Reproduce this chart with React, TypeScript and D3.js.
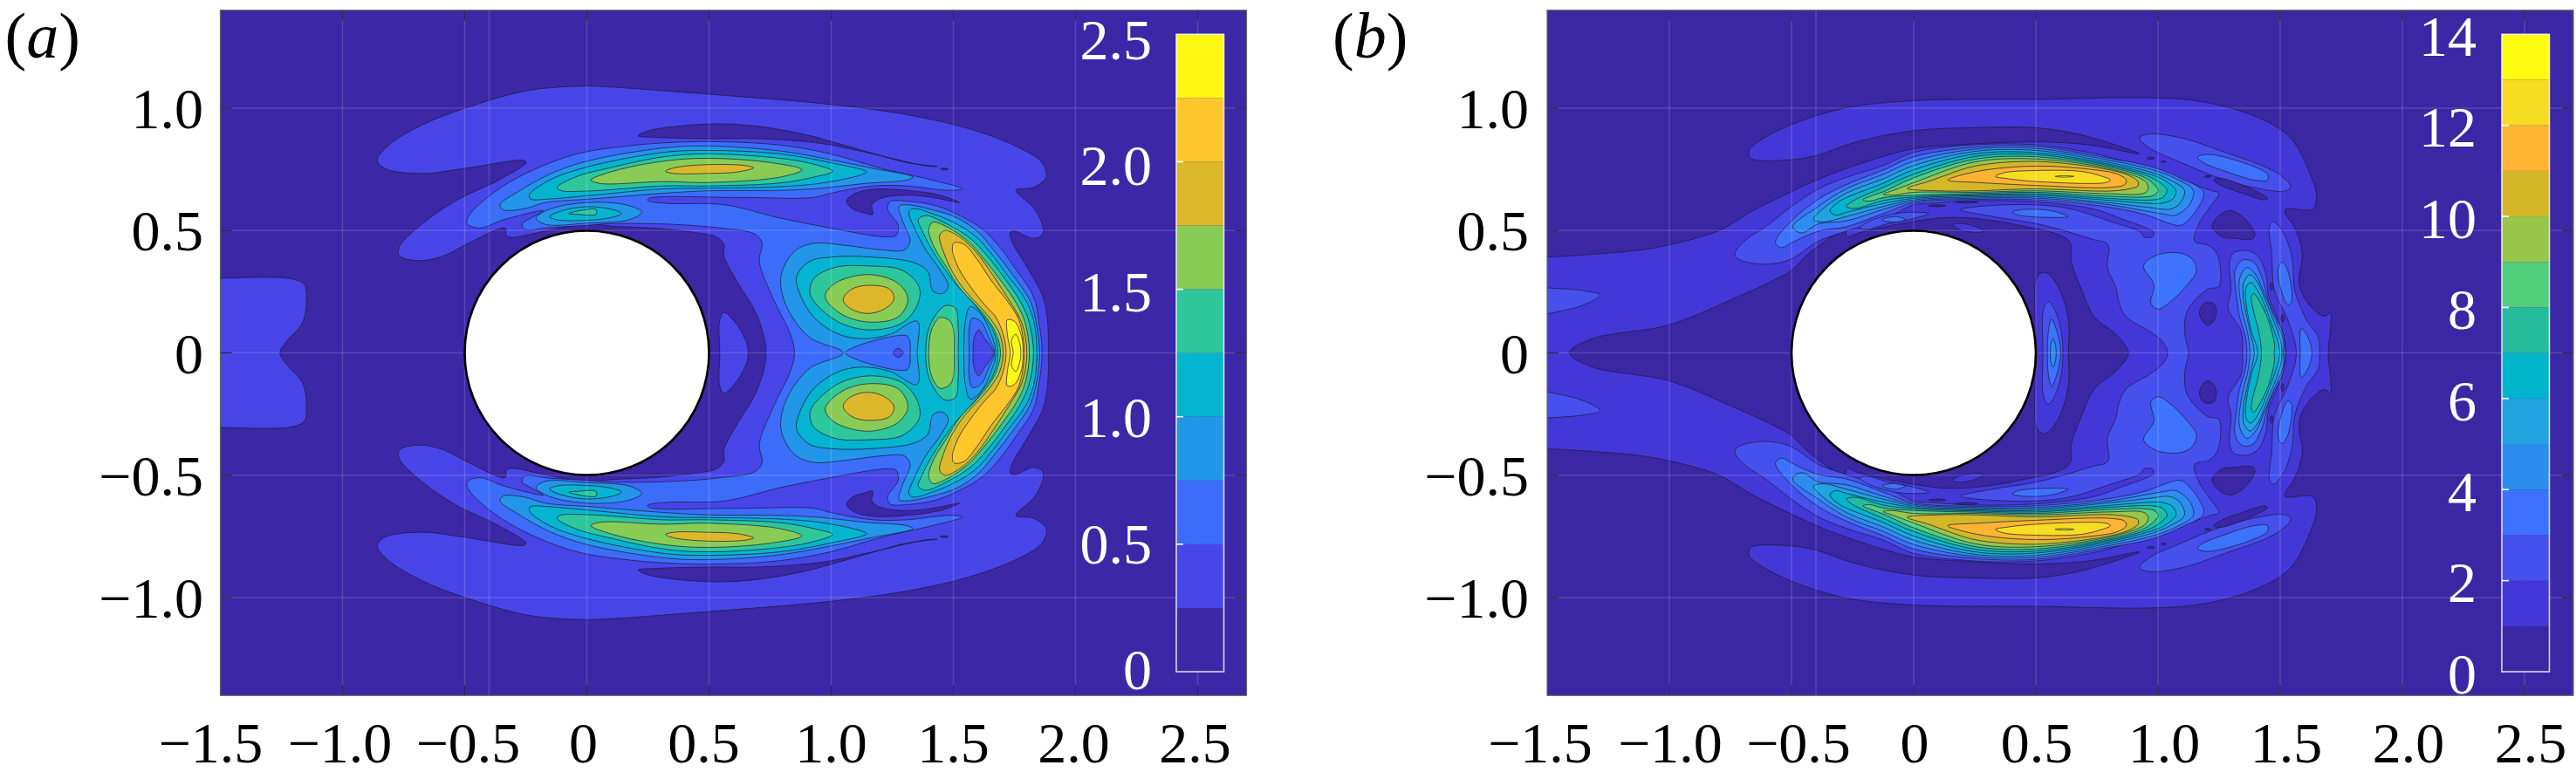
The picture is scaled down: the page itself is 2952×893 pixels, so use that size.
import React from "react";
import * as d3 from "d3";

type Layer = { level: number; half: boolean; pts: number[] };

const xTicks = [-1.5, -1, -0.5, 0, 0.5, 1, 1.5, 2, 2.5];
const yTicks = [-1, -0.5, 0, 0.5, 1];
const gridX = [-1, -0.5, -0.4, 0, 0.5, 1, 1.5, 2, 2.5];
const xNudgeA = [-11, -3, 4, -4, -6, 0, 0, -2, -3];
const xNudgeB = [-8, 1, 8, 1, 1, 7, 7, 7, 7];
const aBarTicks = [0, 0.5, 1, 1.5, 2, 2.5];
const bBarTicks = [0, 2, 4, 6, 8, 10, 12, 14];
const aColors = ["#3c27a6", "#4845e8", "#3d6cfb", "#2296e8", "#05b5cf", "#2ec79b", "#88cc55", "#dcb72a", "#ffc72c", "#fef812"];
const bColors = ["#3b27a3", "#4437d8", "#4650ec", "#3d72fc", "#2d8dee", "#20a3de", "#00b4cb", "#25bc9c", "#52cf7c", "#98c54a", "#d3b728", "#ffb333", "#f7dd22", "#fdfc0f"];

// ---- panel (a): contour outlines in data units (upper half; the lower half mirrors it)
const aOuter1 = [1.889,0,1.885,.135,1.866,.23,1.802,.349,1.742,.45,1.733,.492,1.75,.498,1.828,.468,1.866,.486,1.863,.528,1.828,.593,1.756,.664,1.828,.676,1.88,.718,1.863,.777,1.759,.843,1.569,.914,1.309,.973,.997,1.015,.495,1.057,.097,1.086,0,1.09,-.239,1.072,-.499,.999,-.672,.932,-.81,.849,-.857,.789,-.828,.754,-.672,.733,-.499,.754,-.256,.786,-.249,.777,-.36,.706,-.533,.623,-.672,.528,-.767,.433,-.767,.397,-.689,.377,-.585,.397,-.481,.45,-.334,.51,-.329,.48,-.308,.472,-.17,.498,0,.528,.097,.518,.27,.51,.443,.492,.53,.474,.561,.444,.561,.397,.616,.29,.694,.159,.734,0];
const aLeft1 = [-1.55,0,-1.55,.305,-1.5,.305,-1.208,.302,-1.156,.278,-1.147,.219,-1.164,.123,-1.225,.052,-1.256,0];
const aSliver0 = [.21,.887,.253,.908,.495,.935,.668,.929,.876,.896,1.136,.825,1.309,.777,1.434,.762,1.395,.763,1.17,.813,.963,.855,.703,.875,.495,.875,.27,.881];
const aDot0 = [1.447,.751,1.462,.755,1.479,.751,1.462,.747];
const aHook0 = [1.525,.614,1.447,.644,1.309,.664,1.17,.668,1.092,.649,1.063,.62,1.087,.589,1.136,.572,1.17,.566,1.167,.605,1.205,.632,1.309,.644,1.413,.635];
const aNear1 = [.544,0,.544,.135,.561,.165,.608,.123,.654,.04,.66,0];
const aMain2 = [.85,0,.833,.076,.764,.219,.706,.373,.717,.45,.686,.486,.547,.51,.357,.525,.097,.528,0,.521,-.152,.512,-.256,.504,-.265,.528,-.248,.54,-.178,.581,-.343,.543,-.438,.51,-.49,.528,-.481,.563,-.377,.658,-.256,.73,-.1,.795,0,.822,.097,.837,.27,.855,.495,.863,.79,.849,.997,.813,1.205,.754,1.413,.706,1.539,.67,1.482,.664,1.309,.682,1.17,.682,.997,.652,.928,.635,.616,.635,.253,.631,.249,.623,.322,.611,.564,.605,.79,.551,.997,.51,1.222,.474,1.266,.48,1.274,.522,1.231,.587,1.24,.617,1.309,.62,1.43,.601,1.534,.557,1.621,.504,1.69,.432,1.759,.337,1.828,.23,1.849,.135,1.863,0];
const aMain3 = [1.853,0,1.837,.135,1.811,.219,1.742,.32,1.664,.421,1.603,.492,1.517,.551,1.413,.585,1.309,.605,1.278,.599,1.292,.54,1.323,.456,1.3,.421,1.205,.421,1.067,.438,.928,.447,.85,.415,.795,.314,.815,.195,.911,.064,1.049,0];
const aBand3 = [-.355,.605,-.282,.658,-.152,.73,0,.783,.312,.837,.495,.845,.79,.825,.997,.789,1.17,.754,1.335,.718,1.309,.706,1.136,.692,.963,.673,.79,.664,.495,.662,.312,.652,.021,.629,-.17,.614,-.256,.589,-.343,.585];
const aBlob3 = [-.208,.551,-.152,.587,0,.614,.159,.605,.225,.575,.177,.545,0,.53,-.17,.525];
const aTri2 = [1.058,0,1.309,.07,1.323,.04,1.323,0];
const aMini1 = [1.254,0,1.274,.019,1.295,0];
const aMain4 = [1.352,0,1.352,.129,1.24,.076,1.136,.058,1.032,.076,.928,.147,.867,.254,.859,.314,.911,.373,.997,.391,1.17,.391,1.344,.367,1.396,.331,1.416,.254,1.456,.242,1.479,.272,1.447,.337,1.387,.421,1.344,.504,1.318,.575,1.335,.589,1.413,.569,1.499,.534,1.586,.48,1.647,.415,1.724,.314,1.794,.219,1.828,.135,1.842,0];
const aBand4 = [-.235,.646,-.152,.706,0,.759,.312,.819,.495,.827,.79,.813,.997,.777,1.144,.739,1.118,.726,.963,.694,.79,.679,.495,.673,.312,.67,.021,.644,-.152,.629,-.23,.629];
const aBlob4 = [-.152,.557,-.1,.581,0,.597,.107,.585,.142,.569,.09,.551,0,.542,-.118,.543];
const aTear3 = [1.543,0,1.548,.123,1.569,.189,1.612,.159,1.655,.076,1.674,0];
const aTear2 = [1.565,0,1.565,.1,1.577,.141,1.612,.129,1.647,.058,1.669,0];
const aTear1 = [1.581,0,1.583,.052,1.603,.094,1.629,.058,1.664,0];
const aBand5 = [-.121,.676,-.048,.718,.107,.759,.312,.801,.495,.813,.79,.795,.928,.771,1.006,.742,.928,.718,.79,.694,.495,.682,.312,.682,0,.661,-.109,.664];
const aBlob5 = [-.074,.569,-.005,.585,.038,.585,.038,.566,-.04,.566];
const aRound5 = [.914,.242,.928,.302,1.015,.349,1.153,.355,1.292,.337,1.361,.266,1.352,.195,1.292,.123,1.17,.094,1.049,.117,.954,.183];
const aOval5 = [1.387,0,1.404,.112,1.465,.192,1.508,.183,1.52,.1,1.52,0];
const aRidge5 = [1.683,0,1.664,.088,1.621,.153,1.569,.219,1.508,.284,1.465,.343,1.413,.421,1.37,.504,1.357,.545,1.387,.561,1.482,.522,1.569,.468,1.638,.397,1.707,.308,1.776,.207,1.811,.123,1.828,0];
const aBand6 = [.017,.706,.107,.742,.312,.783,.495,.795,.755,.777,.88,.748,.79,.718,.495,.696,.312,.7,.055,.692];
const aRound6 = [.975,.23,1.015,.284,1.153,.32,1.274,.284,1.314,.219,1.274,.147,1.153,.126,1.041,.159];
const aOval6 = [1.399,0,1.413,.1,1.447,.145,1.491,.123,1.503,0];
const aRidge6 = [1.693,0,1.676,.076,1.638,.141,1.586,.201,1.525,.266,1.473,.349,1.421,.433,1.399,.504,1.416,.534,1.482,.51,1.56,.456,1.629,.379,1.698,.29,1.759,.201,1.794,.123,1.811,0];
const aBand7 = [.322,.742,.357,.756,.495,.769,.651,.765,.682,.756,.616,.739,.495,.733,.357,.733];
const aRound7 = [1.049,.219,1.084,.26,1.153,.276,1.24,.26,1.257,.219,1.214,.177,1.144,.161,1.075,.183];
const aRidge7 = [1.704,0,1.69,.076,1.655,.135,1.603,.195,1.548,.254,1.499,.326,1.461,.409,1.444,.48,1.465,.5,1.525,.474,1.595,.409,1.664,.314,1.733,.207,1.78,.123,1.801,0];
const aRidge8 = [1.716,0,1.704,.076,1.673,.147,1.629,.195,1.569,.272,1.52,.349,1.496,.421,1.503,.45,1.543,.444,1.595,.385,1.655,.296,1.724,.207,1.768,.135,1.79,0];
const aRidge9 = [1.733,0,1.721,.076,1.721,.135,1.75,.129,1.78,.064,1.785,0];
const aCore9 = [1.745,0,1.738,.052,1.756,.076,1.773,.034,1.776,0];

const aLayers: Layer[] = [
  { level: 1, half: true, pts: aOuter1 }, { level: 1, half: true, pts: aLeft1 },
  { level: 0, half: false, pts: aSliver0 }, { level: 0, half: false, pts: aDot0 }, { level: 0, half: false, pts: aHook0 },
  { level: 1, half: true, pts: aNear1 },
  { level: 2, half: true, pts: aMain2 }, { level: 3, half: true, pts: aMain3 },
  { level: 3, half: false, pts: aBand3 }, { level: 3, half: false, pts: aBlob3 },
  { level: 2, half: true, pts: aTri2 }, { level: 1, half: true, pts: aMini1 },
  { level: 4, half: true, pts: aMain4 }, { level: 4, half: false, pts: aBand4 }, { level: 4, half: false, pts: aBlob4 },
  { level: 3, half: true, pts: aTear3 }, { level: 2, half: true, pts: aTear2 }, { level: 1, half: true, pts: aTear1 },
  { level: 5, half: false, pts: aBand5 }, { level: 5, half: false, pts: aBlob5 }, { level: 5, half: false, pts: aRound5 },
  { level: 5, half: true, pts: aOval5 }, { level: 5, half: true, pts: aRidge5 },
  { level: 6, half: false, pts: aBand6 }, { level: 6, half: false, pts: aRound6 }, { level: 6, half: true, pts: aOval6 }, { level: 6, half: true, pts: aRidge6 },
  { level: 7, half: false, pts: aBand7 }, { level: 7, half: false, pts: aRound7 }, { level: 7, half: true, pts: aRidge7 },
  { level: 8, half: true, pts: aRidge8 }, { level: 9, half: true, pts: aRidge9 }, { level: 9, half: true, pts: aCore9 },
];

// ---- panel (b)
const bOuter1 = [1.697,0,1.706,.112,1.706,.161,1.679,.15,1.62,.195,1.578,.278,1.59,.409,1.563,.504,1.519,.585,1.632,.587,1.649,.635,1.623,.73,1.537,.884,1.381,.973,1.173,1.027,.983,1.042,.515,1.036,0,1.03,-.277,1.001,-.502,.932,-.64,.86,-.674,.825,-.666,.795,-.502,.789,-.397,.807,-.241,.86,0,.908,.256,.92,.498,.92,.689,.89,.925,.813,.723,.849,.498,.862,.169,.849,-.004,.833,-.241,.765,-.397,.706,-.501,.658,-.657,.581,-.787,.504,-.899,.466,-1.09,.424,-1.367,.399,-1.5,.392,-1.55,.392,-1.55,0];
const bHole0 = [-1.41,0,-1.315,.058,-1.003,.114,-.744,.219,-.588,.29,-.501,.337,-.44,.397,-.328,.48,-.28,.498,-.273,.474,-.225,.49,0,.537,.169,.554,.429,.522,.637,.456,.645,.373,.689,.254,.74,.147,.827,.076,.879,0];
const bNear1a = [.16,.522,.204,.528,.29,.498,.256,.492,.186,.504];
const bNear1b = [.502,0,.507,.313,.541,.328,.593,.266,.633,.135,.633,0];
const bNear2 = [.529,0,.533,.183,.553,.209,.593,.135,.611,0];
const bNear3 = [.547,0,.553,.1,.564,.138,.593,.064,.602,0];
const bNear4 = [.559,0,.564,.046,.571,.058,.581,.028,.583,0];
const bLeft2 = [-1.55,.27,-1.5,.266,-1.353,.254,-1.283,.236,-1.353,.195,-1.5,.159,-1.55,.15];
const bMain2 = [1.04,0,1.019,.046,.965,.088,.87,.147,.84,.207,.828,.266,.793,.349,.799,.432,.787,.45,.739,.462,.62,.498,.501,.528,.323,.557,.192,.585,.382,.605,.62,.593,.799,.539,.93,.492,.942,.474,.977,.474,.983,.492,.954,.51,.858,.545,.739,.587,.501,.617,.263,.622,.061,.611,0,.605,-.125,.545,-.276,.497,-.39,.456,-.5,.384,-.583,.363,-.68,.37,-.727,.391,-.731,.409,-.693,.456,-.6,.52,-.5,.598,-.39,.67,-.276,.717,-.125,.765,0,.819,.25,.85,.501,.85,.739,.815,.8,.8,.954,.753,1.096,.706,1.215,.664,1.249,.652,1.215,.599,1.168,.528,1.15,.456,1.209,.438,1.245,.397,1.249,.272,1.203,.26,1.12,.171,1.11,.076,1.126,0];
const bCenter3 = [.941,.355,.989,.397,1.084,.409,1.138,.385,1.158,.337,1.12,.278,1.049,.207,1.001,.179,.971,.201,.983,.278];
const bLens3 = [.404,.575,.442,.585,.561,.581,.632,.557,.525,.554,.43,.563];
const bBlob2 = [-.22,.51,-.19,.534,-.087,.567,0,.575,.062,.569,0,.549,-.104,.528,-.19,.504];
const bBlob3 = [-.13,.543,-.078,.557,-.035,.545,-.078,.534];
const bLobe2 = [.924,.878,.965,.894,1.096,.878,1.275,.819,1.454,.753,1.525,.706,1.543,.676,1.519,.661,1.454,.664,1.275,.706,1.096,.777,.965,.837];
const bLobe3 = [1.162,.799,1.198,.811,1.311,.789,1.448,.73,1.448,.706,1.394,.706,1.275,.742,1.186,.777];
const bRib2 = [1.566,0,1.531,.135,1.477,.254,1.465,.409,1.456,.516,1.471,.537,1.513,.492,1.549,.385,1.56,.254,1.608,.135,1.656,.064,1.662,0];
const bRib3a = [1.491,.337,1.507,.371,1.531,.337,1.546,.207,1.531,.197,1.501,.266];
const bRib3b = [1.582,0,1.582,.088,1.587,.1,1.614,.064,1.63,0];
const bRidge2 = [1.346,0,1.34,.088,1.287,.183,1.299,.254,1.293,.373,1.31,.409,1.37,.417,1.412,.391,1.441,.326,1.453,.23,1.501,.112,1.525,0];
const bRidge3 = [1.364,0,1.358,.064,1.334,.147,1.322,.23,1.316,.337,1.346,.379,1.388,.373,1.423,.314,1.453,.207,1.513,.076,1.519,0];
const bRidge4 = [1.376,0,1.37,.064,1.34,.195,1.334,.302,1.364,.349,1.4,.319,1.435,.242,1.465,.171,1.513,.052,1.513,0];
const bRidge5 = [1.394,0,1.376,.088,1.349,.23,1.352,.29,1.376,.319,1.406,.29,1.447,.195,1.501,.052,1.507,0];
const bRidge6 = [1.408,0,1.382,.088,1.36,.207,1.36,.266,1.379,.287,1.412,.248,1.459,.135,1.495,.028,1.498,0];
const bRidge7 = [1.423,0,1.412,.088,1.388,.183,1.382,.23,1.391,.242,1.424,.195,1.459,.112,1.477,.028,1.475,0];
const bBand3 = [-.566,.45,-.5,.539,-.39,.628,-.276,.687,-.125,.747,0,.801,.25,.84,.5,.843,.8,.795,.977,.759,1.096,.712,1.186,.658,1.168,.599,1.096,.522,1.049,.528,.954,.563,.8,.595,.5,.625,.25,.627,0,.613,-.125,.569,-.276,.515,-.39,.497,-.5,.45,-.54,.43];
const bBand4 = [-.495,.515,-.39,.598,-.276,.67,-.125,.729,0,.783,.25,.832,.5,.835,.8,.787,.977,.748,1.073,.712,1.144,.664,1.132,.611,1.073,.563,1.013,.569,.8,.605,.5,.632,.25,.632,0,.619,-.125,.586,-.276,.539,-.39,.527,-.46,.49];
const bBand5 = [-.41,.545,-.37,.59,-.276,.652,-.125,.711,0,.765,.25,.823,.5,.827,.8,.778,.977,.736,1.049,.706,1.108,.664,1.09,.611,1.049,.587,.977,.593,.8,.613,.5,.638,.25,.637,0,.625,-.125,.598,-.276,.557,-.37,.535];
const bBand6 = [-.343,.58,-.31,.615,-.276,.634,-.125,.693,0,.748,.25,.813,.5,.818,.8,.771,.965,.73,1.025,.706,1.073,.664,1.061,.629,1.013,.611,.954,.611,.8,.623,.5,.644,.25,.642,0,.631,-.125,.61,-.276,.574,-.32,.563];
const bBand7 = [-.276,.598,-.24,.625,-.125,.676,0,.73,.25,.802,.5,.81,.8,.765,.954,.724,1.001,.7,1.037,.664,1.019,.635,.977,.625,.8,.631,.5,.65,.25,.646,0,.637,-.125,.622,-.24,.59];
const bBand8 = [-.208,.625,-.17,.642,-.125,.658,0,.715,.25,.791,.5,.801,.8,.759,.942,.718,.977,.694,1.001,.664,.983,.644,.942,.637,.8,.64,.5,.656,.25,.651,0,.644,-.125,.634,-.18,.62];
const bBand9 = [-.125,.648,-.08,.665,0,.695,.25,.78,.5,.792,.8,.753,.93,.712,.954,.694,.96,.67,.942,.652,.8,.65,.5,.662,.25,.656,0,.656,-.08,.645];
const bBand10 = [-.026,.672,.06,.7,.121,.722,.25,.763,.5,.782,.8,.748,.882,.724,.918,.7,.918,.682,.882,.67,.8,.661,.5,.67,.25,.662,.1,.662];
const bBand11 = [.14,.706,.263,.742,.501,.763,.739,.748,.835,.73,.87,.706,.864,.688,.799,.676,.501,.684,.263,.696];
const bBand12 = [.335,.721,.37,.736,.501,.745,.68,.742,.763,.724,.805,.706,.787,.696,.501,.7,.382,.712];
const bDash13 = [.579,.721,.617,.724,.656,.721,.617,.718];
const bSliver0 = [1.227,.706,1.263,.712,1.448,.632,1.436,.625,1.346,.652,1.263,.682];
const bIsle0a = [1.221,.516,1.245,.557,1.293,.581,1.346,.557,1.397,.486,1.388,.466,1.31,.468,1.263,.474];
const bIsle0b = [1.17,.171,1.191,.204,1.227,.201,1.239,.171,1.227,.129,1.201,.114,1.179,.135];
const bSpeck0a = [1.19,.721,1.204,.725,1.218,.721,1.204,.717];
const bSpeck0b = [.955,.795,.971,.799,.987,.795,.971,.791];
const bSpeck0c = [1.012,.781,1.023,.784,1.034,.781,1.023,.778];
const bSpeck0d = [1.458,.272,1.465,.288,1.472,.272,1.465,.256];
const bSpeck0e = [1.503,.141,1.51,.157,1.517,.141,1.51,.125];
const bDash0a = [.061,.601,.096,.605,.132,.601,.096,.597];
const bDash0b = [.168,.616,.215,.62,.263,.616,.215,.612];

const bLayers: Layer[] = [
  { level: 1, half: true, pts: bOuter1 }, { level: 0, half: true, pts: bHole0 },
  { level: 1, half: false, pts: bNear1a }, { level: 1, half: true, pts: bNear1b },
  { level: 2, half: true, pts: bNear2 }, { level: 3, half: true, pts: bNear3 }, { level: 4, half: true, pts: bNear4 },
  { level: 2, half: false, pts: bLeft2 }, { level: 2, half: true, pts: bMain2 },
  { level: 3, half: false, pts: bCenter3 }, { level: 3, half: false, pts: bLens3 },
  { level: 2, half: false, pts: bBlob2 }, { level: 3, half: false, pts: bBlob3 },
  { level: 2, half: false, pts: bLobe2 }, { level: 3, half: false, pts: bLobe3 },
  { level: 2, half: true, pts: bRib2 }, { level: 3, half: false, pts: bRib3a }, { level: 3, half: true, pts: bRib3b },
  { level: 2, half: true, pts: bRidge2 }, { level: 3, half: true, pts: bRidge3 }, { level: 4, half: true, pts: bRidge4 },
  { level: 5, half: true, pts: bRidge5 }, { level: 6, half: true, pts: bRidge6 }, { level: 7, half: true, pts: bRidge7 },
  { level: 3, half: false, pts: bBand3 }, { level: 4, half: false, pts: bBand4 }, { level: 5, half: false, pts: bBand5 },
  { level: 6, half: false, pts: bBand6 }, { level: 7, half: false, pts: bBand7 }, { level: 8, half: false, pts: bBand8 },
  { level: 9, half: false, pts: bBand9 }, { level: 10, half: false, pts: bBand10 }, { level: 11, half: false, pts: bBand11 },
  { level: 12, half: false, pts: bBand12 }, { level: 13, half: false, pts: bDash13 },
  { level: 0, half: false, pts: bSliver0 }, { level: 0, half: false, pts: bIsle0a }, { level: 0, half: false, pts: bIsle0b },
  { level: 0, half: false, pts: bSpeck0a }, { level: 0, half: false, pts: bSpeck0b }, { level: 0, half: false, pts: bSpeck0c },
  { level: 0, half: false, pts: bSpeck0d }, { level: 0, half: false, pts: bSpeck0e }, { level: 0, half: false, pts: bDash0a }, { level: 0, half: false, pts: bDash0b },
];

const SERIF = "'Liberation Serif', 'Times New Roman', serif";
const FS = 66;

const toPairs = (f: number[]) => d3.range(0, f.length, 2).map((i) => [f[i], f[i + 1]] as [number, number]);

function shapes(layer: Layer): [number, number][][] {
  const p = toPairs(layer.pts);
  const flip = (q: [number, number][]) => q.map(([a, b]) => [a, -b] as [number, number]);
  if (layer.half) {
    const body = p.filter(([, b], i) => !(b === 0 && (i === 0 || i === p.length - 1)));
    return [[...p, ...flip(body).reverse()]];
  }
  return [p, flip(p)];
}

type PanelProps = {
  id: string; left: number; layers: Layer[]; colors: string[]; barTicks: number[]; barMax: number;
  barLeft: number; barLabelRight: number; barBase0: number; barBaseTop: number; yLabelRight: number;
  nudge: number[]; label: string; labelX: number;
};

function Panel(pr: PanelProps) {
  const W = 1176, top = 11.7, bottom = 797.3;
  const x = d3.scaleLinear().domain([-1.5, 2.7]).range([pr.left, pr.left + W]);
  const y = d3.scaleLinear().domain([-1.4, 1.4]).range([bottom, top]);
  const line = d3.line<[number, number]>().x((d) => x(d[0])).y((d) => y(d[1])).curve(d3.curveCatmullRomClosed.alpha(0.5));
  const bar = d3.scaleLinear().domain([0, pr.barMax]).range([770, 39.3]);
  const barLabel = d3.scaleLinear().domain([0, pr.barMax]).range([pr.barBase0, pr.barBaseTop]);
  const step = pr.barMax / pr.colors.length;
  const fmt = (v: number) => (v === 0 ? "0" : (v < 0 ? "\u2212" : "") + Math.abs(v).toFixed(1));
  const barFmt = (v: number) => (pr.barMax > 5 ? String(v) : v === 0 ? "0" : v.toFixed(1));
  const BW = 54.5;
  return (
    <g>
      <defs>
        <clipPath id={pr.id}><rect x={pr.left} y={top} width={W} height={bottom - top} /></clipPath>
      </defs>
      <rect x={pr.left} y={top} width={W} height={bottom - top} fill={pr.colors[0]} />
      <g clipPath={`url(#${pr.id})`}>
        {pr.layers.flatMap((l, i) =>
          shapes(l).map((s, j) => (
            <path key={`${i}-${j}`} d={line(s) || ""} fill={pr.colors[l.level]} stroke="#1c1c3a" strokeOpacity={0.72} strokeWidth={1} />
          ))
        )}
      </g>
      {gridX.map((v) => <line key={`gx${v}`} x1={x(v)} x2={x(v)} y1={top} y2={bottom} stroke="#fff" strokeOpacity={0.14} strokeWidth={1.5} />)}
      {yTicks.map((v) => <line key={`gy${v}`} x1={pr.left} x2={pr.left + W} y1={y(v)} y2={y(v)} stroke="#fff" strokeOpacity={0.14} strokeWidth={1.5} />)}
      <circle cx={x(0)} cy={y(0)} r={x(0.5) - x(0)} fill="#fff" stroke="#000" strokeWidth={2.6} />
      {xTicks.slice(1).map((v) => (
        <g key={`tx${v}`} stroke="#2b2b45" strokeWidth={1.4}>
          <line x1={x(v)} x2={x(v)} y1={top} y2={top + 12} />
          <line x1={x(v)} x2={x(v)} y1={bottom} y2={bottom - 12} />
        </g>
      ))}
      {yTicks.map((v) => (
        <g key={`ty${v}`} stroke="#2b2b45" strokeWidth={1.4}>
          <line x1={pr.left} x2={pr.left + 13} y1={y(v)} y2={y(v)} />
          <line x1={pr.left + W} x2={pr.left + W - 13} y1={y(v)} y2={y(v)} />
        </g>
      ))}
      {pr.colors.map((c, i) => (
        <rect key={c} x={pr.barLeft} width={BW} y={bar(step * (i + 1))} height={bar(step * i) - bar(step * (i + 1))} fill={c} />
      ))}
      <rect x={pr.barLeft} width={BW} y={bar(pr.barMax)} height={bar(0) - bar(pr.barMax)} fill="none" stroke="#fff" strokeOpacity={0.8} strokeWidth={1.6} />
      {pr.barTicks.slice(1, -1).map((v) => (
        <line key={`bt${v}`} x1={pr.barLeft} x2={pr.barLeft + 8} y1={bar(v)} y2={bar(v)} stroke="#fff" strokeWidth={1.6} />
      ))}
      <rect x={pr.left} y={top} width={W} height={bottom - top} fill="none" stroke="#666" strokeWidth={1.2} />
      <g fontFamily={SERIF} fontSize={FS}>
        {pr.barTicks.map((v) => (
          <text key={`bl${v}`} x={pr.barLabelRight} y={barLabel(v)} textAnchor="end" fill="#fff">{barFmt(v)}</text>
        ))}
        {yTicks.map((v) => (
          <text key={`yl${v}`} x={pr.yLabelRight} y={y(v) + 23} textAnchor="end" fill="#000">{fmt(v)}</text>
        ))}
        {xTicks.map((v, i) => (
          <text key={`xl${v}`} x={x(v) + pr.nudge[i]} y={874} textAnchor="middle" fill="#000">{fmt(v)}</text>
        ))}
        <text x={pr.labelX} y={66} fontSize={74} fill="#000">(<tspan fontStyle="italic">{pr.label}</tspan>)</text>
      </g>
    </g>
  );
}

export default function App() {
  return (
    <svg width={2952} height={893} viewBox="0 0 2952 893" style={{ position: "absolute", left: 0, top: 0, display: "block", background: "#fff" }}>
      <Panel id="clipA" left={252.5} layers={aLayers} colors={aColors} barTicks={aBarTicks} barMax={2.5} barLeft={1348} barLabelRight={1320} barBase0={790} barBaseTop={68} yLabelRight={233} nudge={xNudgeA} label="a" labelX={5.5} />
      <Panel id="clipB" left={1773} layers={bLayers} colors={bColors} barTicks={bBarTicks} barMax={14} barLeft={2867} barLabelRight={2838} barBase0={794.7} barBaseTop={64} yLabelRight={1752} nudge={xNudgeB} label="b" labelX={1527} />
    </svg>
  );
}
